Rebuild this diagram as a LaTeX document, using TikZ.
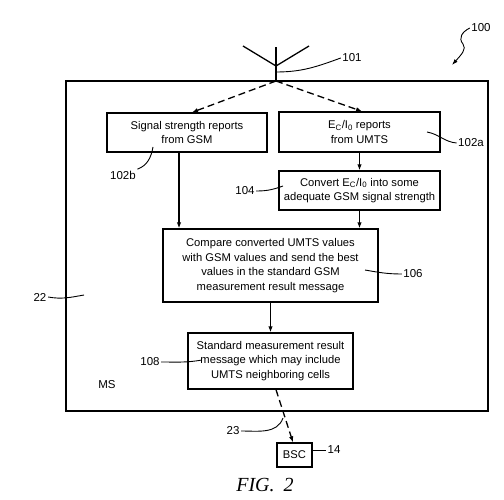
\documentclass[tikz,border=0pt]{standalone}
\usepackage{fontspec}
\setmainfont{Liberation Sans}
\newfontfamily\figfont{Liberation Serif}
\usetikzlibrary{arrows.meta}
\begin{document}
\begin{tikzpicture}[x=1pt,y=-1pt, line width=1.3pt,
  box/.style={draw, rectangle, inner sep=0pt, align=center, font=\fontsize{11.2}{14.5}\selectfont},
  lbl/.style={font=\fontsize{11.5}{12}\selectfont, inner sep=1pt},
  arr/.style={-{Latex[length=6pt,width=4.5pt]}},
  darr/.style={arr, dash pattern=on 7pt off 4pt},
  lead/.style={line width=0.9pt}]
\useasboundingbox[fill=white] (0,0) rectangle (504,500);

% MS frame
\node[draw, rectangle, minimum width=422pt, minimum height=330pt, inner sep=0pt] (ms) at (277,246) {};

% antenna
\coordinate (ant) at (276,81);
\coordinate (antv) at (276,66);
\coordinate (antl) at (243,46);
\coordinate (antr) at (309,46);
\coordinate (antt) at (276,47);
\draw (antv) -- (antl);
\draw (antv) -- (antr);
\draw (ant) -- (antt);

% boxes
\node[box, minimum width=160pt, minimum height=39pt] (b102b) at (187,132.5) {Signal strength reports\\from GSM};
\node[box, minimum width=161pt, minimum height=40pt] (b102a) at (359.5,132) {E\textsubscript{C}/I\textsubscript{0} reports\\from UMTS};
\node[box, minimum width=161pt, minimum height=39pt] (b104) at (359.5,190.5) {Convert E\textsubscript{C}/I\textsubscript{0} into some\\adequate GSM signal strength};
\node[box, minimum width=215pt, minimum height=73pt] (b106) at (270.5,265.5) {Compare converted UMTS values\\with GSM values and send the best\\values in the standard GSM\\measurement result message};
\node[box, minimum width=165pt, minimum height=56pt] (b108) at (270.5,361) {Standard measurement result\\message which may include\\UMTS neighboring cells};
\node[box, minimum width=35pt, minimum height=24pt] (bsc) at (294.5,455) {BSC};

% connectors
\draw[darr] (ant) -- ([xshift=5pt]b102b.north);
\draw[darr] (ant) -- ([xshift=2.5pt]b102a.north);
\draw[arr] (b102a.south) -- (b104.north);
\draw[arr] ([xshift=-8pt]b102b.south) -- ([xshift=-8pt]b102b.south |- b106.north);
\draw[arr] (b104.south) -- (b104.south |- b106.north);
\draw[arr] (b106.south) -- (b108.north);
\draw[darr] ([xshift=5.5pt]b108.south) -- ([xshift=-1.5pt]bsc.north);

% reference labels
\node[lbl] (l100) at (481,28) {100};
\node[lbl] (l101) at (352,58) {101};
\node[lbl] (l102a) at (471,143) {102a};
\node[lbl] (l102b) at (123,175) {102b};
\node[lbl] (l104) at (245,191) {104};
\node[lbl] (l106) at (413,274) {106};
\node[lbl] (l108) at (150,362) {108};
\node[lbl] (l22) at (40,297) {22};
\node[lbl] (l23) at (233,431) {23};
\node[lbl] (l14) at (334,450) {14};
\node[lbl] (lms) at (107,385) {MS};
\node[font=\figfont\itshape\fontsize{20}{22}\selectfont, inner sep=0pt] (fig) at (265,485) {FIG.\hspace{9pt}2};

% leaders
\coordinate (m101) at (276,72);
\draw[lead] (m101) to[out=0,in=200] (l101.west);
\draw[lead,-{Latex[length=6pt,width=4pt]}] (l100.west) .. controls (462,32) and (458,38) .. (463,44) .. controls (467,49) and (461,55) .. (452,65);
\coordinate (p102a) at (427,132);
\draw[lead] (p102a) to[out=-10,in=175] (l102a.west);
\coordinate (p102b) at (153,147);
\draw[lead] (p102b) to[out=-100,in=20] (l102b.north east);
\coordinate (p104) at (283,186);
\draw[lead] (l104.east) to[out=0,in=200] (p104);
\coordinate (p106) at (365,270);
\draw[lead] (p106) to[out=-10,in=180] (l106.west);
\coordinate (p108) at (202,360);
\draw[lead] (l108.east) to[out=0,in=190] (p108);
\coordinate (p22) at (84,295);
\draw[lead] (l22.east) to[out=-10,in=190] (p22);
\coordinate (p23) at (283,418);
\draw[lead] (l23.east) to[out=0,in=-110] (p23);
\draw[lead] (bsc.east |- l14.west) -- (l14.west);
\end{tikzpicture}
\end{document}
